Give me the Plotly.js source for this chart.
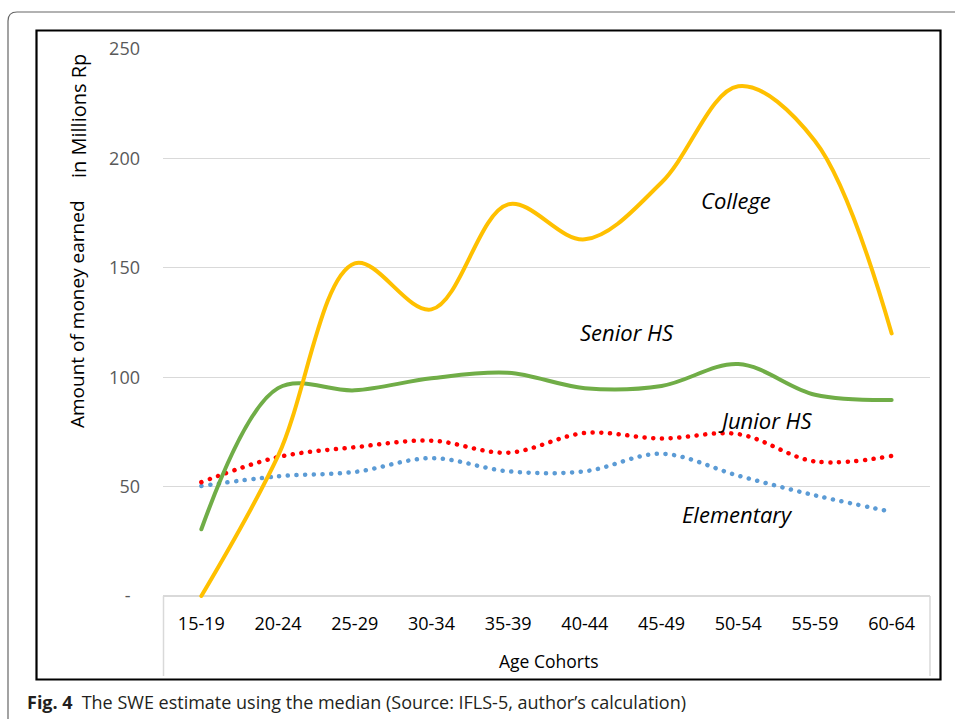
<!DOCTYPE html>
<html><head><meta charset="utf-8">
<script src="https://cdn.plot.ly/plotly-3.0.1.min.js"></script>
<style>
html,body{margin:0;padding:0;background:#fff;}
#chart{width:955px;height:719px;}
.scatterlayer .js-line{stroke-linecap:round;}
</style>
</head><body><div id="chart"></div>
<script>
// ---- data ----
const categories = ['15-19','20-24','25-29','30-34','35-39','40-44','45-49','50-54','55-59','60-64'];
const college    = [0, 64, 152, 131, 179, 163, 189, 233, 208, 120];
const seniorHS   = [30.5, 95, 94, 99.5, 102, 95, 96, 106, 92, 89.6];
const juniorHS   = [52, 63.5, 68, 71, 65.5, 74.5, 72, 74, 61.5, 64];
const elementary = [50.3, 54.7, 56.7, 63, 57, 57, 65, 55, 46, 38.5];
const yTickVals  = [0, 50, 100, 150, 200, 250];
const yTickText  = ['-\u00a0\u00a0', '50', '100', '150', '200', '250'];

// ---- geometry helpers (pixel -> paper) ----
const ML = 163, MR = 25, MT = 48, MB = 119, W = 955, H = 719;
const PW = W - ML - MR, PH = H - MT - MB;
const px = x => (x - ML) / PW;
const py = y => (H - MB - y) / PH;

const font = 'Open Sans, Noto Sans, sans-serif';

function line(name, y, color, dash) {
  return {
    type: 'scatter', mode: 'lines', name: name,
    x: categories, y: y,
    line: {color: color, width: dash ? 4.5 : 4, shape: 'spline', smoothing: 1, dash: dash || 'solid'},
    hoverinfo: 'x+y'
  };
}

const traces = [
  line('Elementary', elementary, '#5B9BD5', '0.1px,8.6px'),
  line('Junior HS', juniorHS, '#FF0000', '0.1px,8.6px'),
  line('Senior HS', seniorHS, '#70AD47'),
  line('College', college, '#FFC000')
];

function ann(text, x, y, opts) {
  return Object.assign({
    text: text, xref: 'paper', yref: 'paper', x: px(x), y: py(y),
    xanchor: 'center', yanchor: 'middle', showarrow: false,
    font: {family: font, size: 18, color: '#000'}
  }, opts || {});
}

const r = 9;
const outerPath = `M ${px(8)},${py(740)} L ${px(8)},${py(12 + r)} Q ${px(8)},${py(12)} ${px(8 + r)},${py(12)} L ${px(980)},${py(12)}`;

const layout = {
  width: W, height: H,
  margin: {l: ML, r: MR, t: MT, b: MB, pad: 0},
  paper_bgcolor: '#fff', plot_bgcolor: '#fff',
  showlegend: false,
  font: {family: font},
  xaxis: {
    type: 'category', range: [-0.5, 9.5],
    showgrid: false, zeroline: false, showline: false, ticks: '',
    tickfont: {family: font, size: 18, color: '#000'},
    ticklabelstandoff: 11, fixedrange: true
  },
  yaxis: {
    range: [-1.828, 250.457],
    tickvals: yTickVals, ticktext: yTickText,
    showgrid: true, gridcolor: '#d9d9d9', gridwidth: 1,
    zeroline: true, zerolinecolor: '#d9d9d9', zerolinewidth: 1.5,
    showline: false, ticks: '',
    tickfont: {family: font, size: 18, color: '#595959'},
    ticklabelstandoff: 22, fixedrange: true
  },
  shapes: [
    {type: 'path', xref: 'paper', yref: 'paper', path: outerPath, line: {color: '#666', width: 1.2}},
    {type: 'rect', xref: 'paper', yref: 'paper', x0: px(36.5), x1: px(940.5), y0: py(679.5), y1: py(30.5), line: {color: '#000', width: 2.2}},
    {type: 'line', xref: 'paper', yref: 'paper', x0: px(163.5), x1: px(163.5), y0: py(596), y1: py(676), line: {color: '#d9d9d9', width: 1.5}},
    {type: 'line', xref: 'paper', yref: 'paper', x0: px(930), x1: px(930), y0: py(596), y1: py(676), line: {color: '#d9d9d9', width: 1.5}}
  ],
  annotations: [
    ann('Amount of money earned', 77, 314, {textangle: -90, font: {family: font, size: 19, color: '#000'}}),
    ann('in Millions Rp', 78, 116, {textangle: -90, font: {family: font, size: 20, color: '#000'}}),
    ann('Age Cohorts', 548, 661, {font: {family: font, size: 17.5, color: '#000'}}),
    ann('<i>College</i>', 736, 200, {font: {family: font, size: 22, color: '#000'}}),
    ann('<i>Senior HS</i>', 627, 332, {font: {family: font, size: 22, color: '#000'}}),
    ann('<i>Junior HS</i>', 765, 420, {font: {family: font, size: 22, color: '#000'}}),
    ann('<i>Elementary</i>', 737, 514, {font: {family: font, size: 22, color: '#000'}}),
    ann('<b>Fig. 4</b>\u2002The SWE estimate using the median (Source: IFLS-5, author\u2019s calculation)', 25, 702,
        {xanchor: 'left', font: {family: font, size: 18, color: '#231f20'}})
  ]
};

Plotly.newPlot('chart', traces, layout, {displayModeBar: false, staticPlot: true});
</script>
</body></html>
